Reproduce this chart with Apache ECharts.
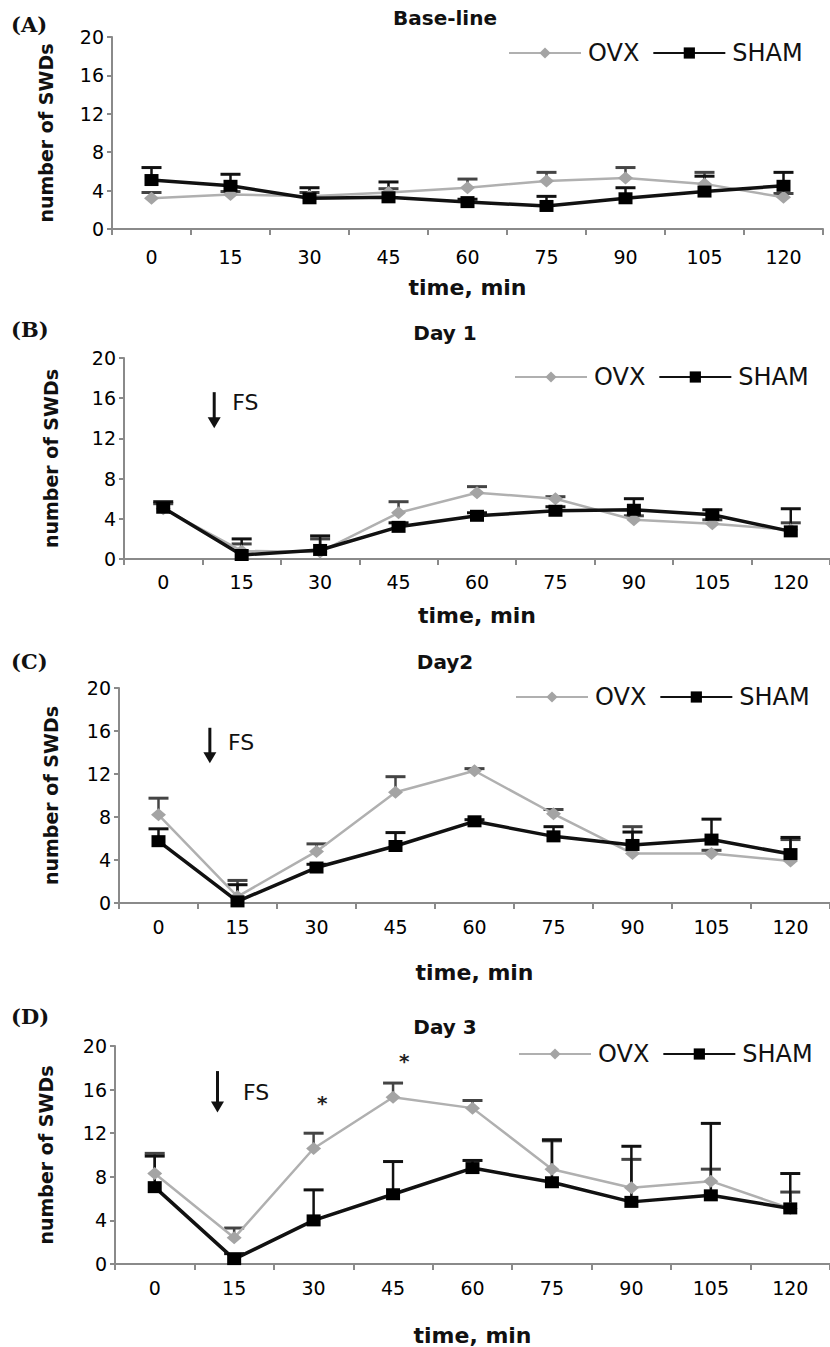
<!DOCTYPE html>
<html>
<head>
<meta charset="utf-8">
<script src="https://cdn.jsdelivr.net/npm/echarts@6.0.0/dist/echarts.min.js"></script>
<style>
html, body { margin: 0; padding: 0; background: #fff; }
#chart { width: 830px; height: 1347px; }
</style>
</head>
<body>
<div id="chart"></div>
<script>
// time points (min)
const times = ['0', '15', '30', '45', '60', '75', '90', '105', '120']
const yMin = 0, yMax = 20, yStep = 4
const panelTitles = ['Base-line', 'Day 1', 'Day2', 'Day 3']
const panelTags = ['(A)', '(B)', '(C)', '(D)']
const seriesNames = ['OVX', 'SHAM']

// (A) Base-line
const ovxA = [3.2, 3.6, 3.4, 3.8, 4.3, 5.0, 5.3, 4.7, 3.3]
const ovxErrA = [0.6, 0.3, 0.4, 0.4, 0.9, 0.9, 1.1, 1.2, 0.4]
const shamA = [5.1, 4.5, 3.2, 3.3, 2.8, 2.4, 3.2, 3.9, 4.5]
const shamErrA = [1.3, 1.2, 1.1, 1.6, 0.3, 1.0, 1.1, 1.6, 1.4]

// (B) Day 1
const ovxB = [5.0, 0.8, 0.7, 4.6, 6.6, 6.0, 3.9, 3.5, 2.9]
const ovxErrB = [0.5, 0.7, 1.3, 1.1, 0.6, 0.2, 0.4, 0.4, 0.7]
const shamB = [5.1, 0.4, 0.9, 3.2, 4.3, 4.8, 4.9, 4.4, 2.75]
const shamErrB = [0.6, 1.6, 1.4, 0.4, 0.3, 0.4, 1.1, 0.5, 2.25]

// (C) Day2
const ovxC = [8.2, 0.6, 4.8, 10.3, 12.3, 8.3, 4.6, 4.6, 3.9]
const ovxErrC = [1.55, 1.5, 0.7, 1.45, 0.2, 0.4, 2.5, 0.3, 2.0]
const shamC = [5.75, 0.15, 3.3, 5.3, 7.6, 6.2, 5.4, 5.9, 4.55]
const shamErrC = [1.15, 1.55, 0.3, 1.25, 0.15, 0.9, 1.2, 1.9, 1.55]

// (D) Day 3
const ovxD = [8.3, 2.4, 10.6, 15.3, 14.3, 8.7, 7.0, 7.6, 5.1]
const ovxErrD = [1.85, 0.9, 1.4, 1.3, 0.7, 2.6, 2.6, 1.1, 1.5]
const shamD = [7.05, 0.45, 4.0, 6.4, 8.8, 7.5, 5.7, 6.3, 5.1]
const shamErrD = [2.85, 0.5, 2.8, 3.0, 0.7, 3.9, 5.1, 6.6, 3.2]

// FS arrow: [category, offset (bands), top, tip, text offset (bands), text y]
const fsB = [0, 0.65, 16.6, 13.0, 0.88, 15.6]
const fsC = [0, 0.65, 16.3, 13.0, 0.88, 14.9]
const fsD = [0, 0.79, 17.7, 13.9, 1.11, 15.7]
// significance marks in (D): [category, value, offset (bands)]
const starsD = [[2, 15.2, 0.11], [3, 19.1, 0.14]]

const panels = [
    { ovx: ovxA, ovxErr: ovxErrA, sham: shamA, shamErr: shamErrA, fs: null, stars: [] },
    { ovx: ovxB, ovxErr: ovxErrB, sham: shamB, shamErr: shamErrB, fs: fsB, stars: [] },
    { ovx: ovxC, ovxErr: ovxErrC, sham: shamC, shamErr: shamErrC, fs: fsC, stars: [] },
    { ovx: ovxD, ovxErr: ovxErrD, sham: shamD, shamErr: shamErrD, fs: fsD, stars: starsD },
]

const layout = [
    { left: 112, top: 37, width: 711, height: 192, legendLeft: 503, legendY: 49, titleY: 18, tagY: 24, labelMargin: 18, xNameGap: 47, yNameGap: 57 },
    { left: 124, top: 358, width: 715, height: 201, legendLeft: 509, legendY: 373, titleY: 333, tagY: 329, labelMargin: 13, xNameGap: 45, yNameGap: 64 },
    { left: 119, top: 688, width: 712, height: 215, legendLeft: 510, legendY: 693, titleY: 662, tagY: 661, labelMargin: 14, xNameGap: 58, yNameGap: 59 },
    { left: 115, top: 1046, width: 717, height: 218, legendLeft: 513, legendY: 1050, titleY: 1027, tagY: 1016, labelMargin: 14, xNameGap: 60, yNameGap: 60 },
]

const sans = '"DejaVu Sans", "Liberation Sans", sans-serif'
const ovxColor = '#b0b0b0'
const shamColor = '#111'

function errRender(params, api) {
    const x = api.value(0), y = api.value(1), e = api.value(2)
    const p0 = api.coord([x, y])
    const p1 = api.coord([x, y + e])
    const color = api.visual('color')
    return {
        type: 'group',
        children: [
            { type: 'line', shape: { x1: p0[0], y1: p0[1], x2: p1[0], y2: p1[1] }, style: { stroke: color, lineWidth: 2.5 } },
            { type: 'line', shape: { x1: p1[0] - 10, y1: p1[1], x2: p1[0] + 10, y2: p1[1] }, style: { stroke: color, lineWidth: 3 } },
        ]
    }
}

function fsRender(params, api) {
    const band = api.size([1, 0])[0]
    const top = api.coord([api.value(0), api.value(2)])
    const tip = api.coord([api.value(0), api.value(3)])
    const x = top[0] + api.value(1) * band
    const tx = top[0] + api.value(4) * band
    const ty = api.coord([api.value(0), api.value(5)])[1]
    return {
        type: 'group',
        children: [
            { type: 'line', shape: { x1: x, y1: top[1], x2: x, y2: tip[1] - 8 }, style: { stroke: '#111', lineWidth: 3 } },
            { type: 'polygon', shape: { points: [[x - 6.5, tip[1] - 11], [x + 6.5, tip[1] - 11], [x, tip[1]]] }, style: { fill: '#111' } },
            { type: 'text', x: tx, y: ty, style: { text: 'FS', fontSize: 22, fontFamily: sans, fill: '#111', align: 'left', verticalAlign: 'middle' } },
        ]
    }
}

function starRender(params, api) {
    const band = api.size([1, 0])[0]
    const p = api.coord([api.value(0), api.value(1)])
    return {
        type: 'text',
        x: p[0] + api.value(2) * band,
        y: p[1] + 5,
        style: { text: '*', fontSize: 20, fontWeight: 'bold', fontFamily: sans, fill: '#222', align: 'center', verticalAlign: 'middle' }
    }
}

const grid = [], xAxis = [], yAxis = [], legend = [], series = [], graphic = []

panels.forEach((p, i) => {
    const L = layout[i]
    grid.push({ left: L.left, top: L.top, width: L.width, height: L.height })
    xAxis.push({
        type: 'category',
        gridIndex: i,
        data: times,
        boundaryGap: true,
        name: 'time, min',
        nameLocation: 'middle',
        nameGap: L.xNameGap,
        nameTextStyle: { fontFamily: sans, fontWeight: 'bold', fontSize: 22, color: '#111' },
        axisLine: { lineStyle: { color: '#8a8a8a', width: 2 } },
        axisTick: { show: true, length: 6, lineStyle: { color: '#8a8a8a', width: 2 } },
        axisLabel: { margin: L.labelMargin, fontFamily: sans, fontSize: 19, color: '#000' },
        splitLine: { show: false },
    })
    yAxis.push({
        type: 'value',
        gridIndex: i,
        min: yMin,
        max: yMax,
        interval: yStep,
        name: 'number of SWDs',
        nameLocation: 'middle',
        nameRotate: 90,
        nameGap: L.yNameGap,
        nameTextStyle: { fontFamily: sans, fontWeight: 'bold', fontSize: 19, color: '#111' },
        axisLine: { show: true, lineStyle: { color: '#8a8a8a', width: 2 } },
        axisTick: { show: true, length: 5, lineStyle: { color: '#8a8a8a', width: 2 } },
        axisLabel: { margin: 8, fontFamily: sans, fontSize: 19, color: '#000' },
        splitLine: { show: false },
    })
    legend.push({
        data: seriesNames,
        left: L.legendLeft,
        top: L.legendY - 13,
        itemWidth: 72,
        itemHeight: 14,
        itemGap: 13,
        selectedMode: false,
        textStyle: { fontFamily: sans, fontSize: 24, color: '#111', padding: [0, 0, 0, 2] },
    })
    graphic.push({
        type: 'text', x: 445, y: L.titleY,
        style: { text: panelTitles[i], fontFamily: sans, fontWeight: 'bold', fontSize: 20, fill: '#111', align: 'center', verticalAlign: 'middle' }
    })
    graphic.push({
        type: 'text', x: 11, y: L.tagY,
        style: { text: panelTags[i], fontFamily: '"DejaVu Serif", "Liberation Serif", serif', fontWeight: 'bold', fontSize: 21, fill: '#111', align: 'left', verticalAlign: 'middle' }
    })

    series.push({
        type: 'custom', name: 'OVX err', xAxisIndex: i, yAxisIndex: i, z: 1,
        itemStyle: { color: '#444' },
        renderItem: errRender,
        data: p.ovx.map((v, k) => [k, v, p.ovxErr[k]]),
    })
    series.push({
        type: 'custom', name: 'SHAM err', xAxisIndex: i, yAxisIndex: i, z: 1,
        itemStyle: { color: '#111' },
        renderItem: errRender,
        data: p.sham.map((v, k) => [k, v, p.shamErr[k]]),
    })
    series.push({
        type: 'line', name: 'OVX', xAxisIndex: i, yAxisIndex: i, z: 2,
        data: p.ovx,
        symbol: 'diamond',
        symbolSize: [15, 13],
        itemStyle: { color: '#a4a4a4' },
        lineStyle: { color: ovxColor, width: 2.5 },
        animation: false,
    })
    series.push({
        type: 'line', name: 'SHAM', xAxisIndex: i, yAxisIndex: i, z: 3,
        data: p.sham,
        symbol: 'rect',
        symbolSize: [14, 12],
        itemStyle: { color: '#000' },
        lineStyle: { color: shamColor, width: 3.5 },
        animation: false,
    })
    if (p.fs) {
        series.push({
            type: 'custom', name: 'FS', xAxisIndex: i, yAxisIndex: i, z: 4,
            renderItem: fsRender,
            data: [p.fs],
        })
    }
    if (p.stars.length) {
        series.push({
            type: 'custom', name: 'sig', xAxisIndex: i, yAxisIndex: i, z: 4,
            renderItem: starRender,
            data: p.stars,
        })
    }
})

const chart = echarts.init(document.getElementById('chart'), null, { renderer: 'svg' })
chart.setOption({
    animation: false,
    backgroundColor: '#fff',
    grid: grid,
    xAxis: xAxis,
    yAxis: yAxis,
    legend: legend,
    graphic: graphic,
    series: series,
})
</script>
</body>
</html>
